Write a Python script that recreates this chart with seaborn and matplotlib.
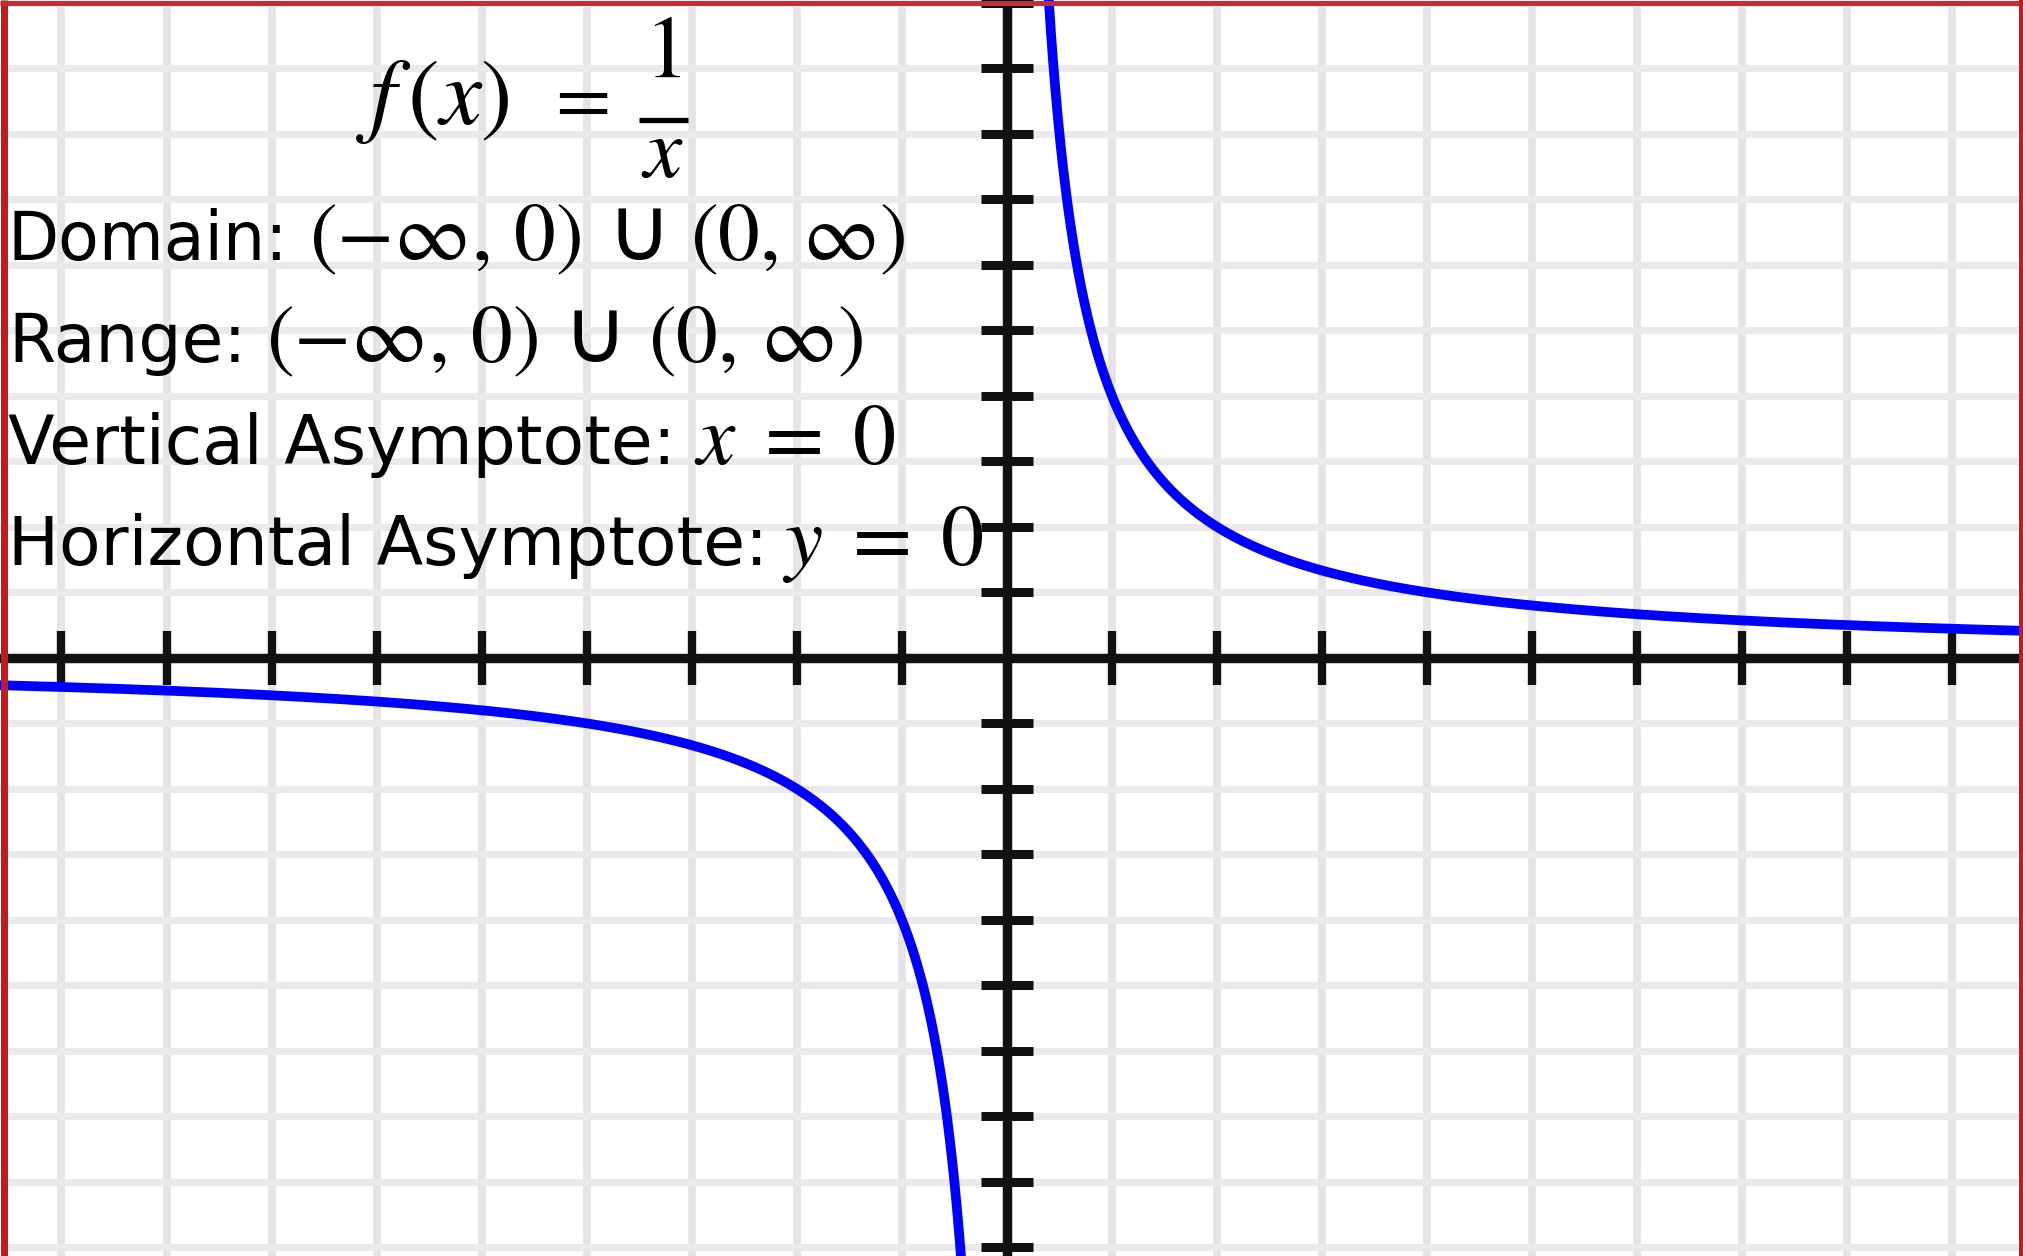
import numpy as np
import pandas as pd
import matplotlib
matplotlib.use("Agg")
import matplotlib.pyplot as plt
from matplotlib.lines import Line2D
import seaborn as sns

# ---- data -----------------------------------------------------------------
# f(x) = 1/x, sampled densely on each side of the vertical asymptote
x_left = -np.geomspace(9.7, 0.40, 600)
x_right = np.geomspace(0.38, 9.8, 600)
branch_left = pd.DataFrame({"x": x_left, "y": 1.0 / x_left})
branch_right = pd.DataFrame({"x": x_right, "y": 1.0 / x_right})

x_ticks = [-9, -8, -7, -6, -5, -4, -3, -2, -1, 1, 2, 3, 4, 5, 6, 7, 8, 9]
y_ticks = [-2.25, -2.0, -1.75, -1.5, -1.25, -1.0, -0.75, -0.5, -0.25,
           0.25, 0.5, 0.75, 1.0, 1.25, 1.5, 1.75, 2.0, 2.25, 2.5]

# annotation pieces: (text, left edge px, baseline px, size)
info_pieces = [
    ("Domain:", 8, 260, 48),
    (r"$(-\infty,\, 0)$", 309, 260, 60),
    ("\u222a", 606, 260, 64),
    (r"$(0,\, \infty)$", 690, 260, 60),
    ("Range:", 8, 362, 49),
    (r"$(-\infty,\, 0)$", 266, 362, 60),
    ("\u222a", 562, 362, 64),
    (r"$(0,\, \infty)$", 648, 362, 60),
    ("Vertical Asymptote:", 8, 464, 49),
    (r"$x\;=\;0$", 694, 464, 62),
    ("Horizontal Asymptote:", 8, 565, 49),
    (r"$y\;=\;0$", 782, 565, 62),
]

# ---- style ----------------------------------------------------------------
sns.set_style("white")
plt.rcParams["font.family"] = ["DejaVu Sans"]
plt.rcParams["mathtext.fontset"] = "stix"

W, H = 2023, 1256
fig = plt.figure(figsize=(W / 100, H / 100), dpi=100)
ax = fig.add_axes([0, 0, 1, 1])

ax.set_xlim(-9.585, 9.672)
ax.set_ylim(-2.283, 2.511)

# grid
ax.set_axisbelow(True)
ax.set_xticks(x_ticks)
ax.set_yticks(y_ticks)
ax.xaxis.grid(True, color="#e6e2e6", linewidth=5.5)
ax.yaxis.grid(True, color="#ece9ec", linewidth=5.0)

# axes through the origin
for side in ("top", "right"):
    ax.spines[side].set_visible(False)
ax.spines["left"].set_position(("data", 0))
ax.spines["bottom"].set_position(("data", 0))
for side in ("left", "bottom"):
    ax.spines[side].set_color("#111111")
    ax.spines[side].set_linewidth(6.8)
ax.tick_params(axis="x", bottom=True, direction="inout", length=39,
               width=6.0, color="#111111", labelbottom=False)
ax.tick_params(axis="y", left=True, direction="inout", length=37,
               width=6.5, color="#111111", labelleft=False)

# curve
for branch in (branch_left, branch_right):
    sns.lineplot(data=branch, x="x", y="y", ax=ax, color="#0000ff",
                 linewidth=7.0, sort=False, estimator=None, zorder=4)
ax.set_xlabel("")
ax.set_ylabel("")


def put(s, x_px, base_px, size, ha="left"):
    fig.text(x_px / W, 1 - base_px / H, s, fontsize=size, ha=ha,
             va="baseline", color="black")


# title  f(x) = 1/x
put(r"$f\,(x)$", 356, 124, 68)
put(r"$=$", 544, 122, 58)
put(r"$1$", 663, 77, 64, ha="center")
put(r"$x$", 662, 177, 62, ha="center")
fig.add_artist(Line2D([639 / W, 688 / W], [1 - 120 / H, 1 - 120 / H],
                      transform=fig.transFigure, color="black",
                      linewidth=3.8, solid_capstyle="butt"))

# domain / range / asymptotes
for s, x0, base, size in info_pieces:
    put(s, x0, base, size)

# red frame on the left, top and right edges
red = "#c8181c"
fig.add_artist(Line2D([3.5 / W, 3.5 / W], [0, 1], transform=fig.transFigure,
                      color=red, linewidth=7 * 0.72, solid_capstyle="butt",
                      zorder=10))
fig.add_artist(Line2D([0, 1], [1 - 2.5 / H, 1 - 2.5 / H],
                      transform=fig.transFigure, color="#cc2a2e",
                      linewidth=5 * 0.72, solid_capstyle="butt", zorder=10))
fig.add_artist(Line2D([1 - 2 / W, 1 - 2 / W], [0, 1], transform=fig.transFigure,
                      color=red, linewidth=4 * 0.72, solid_capstyle="butt",
                      zorder=10))

fig.savefig("out.png", dpi=100)
